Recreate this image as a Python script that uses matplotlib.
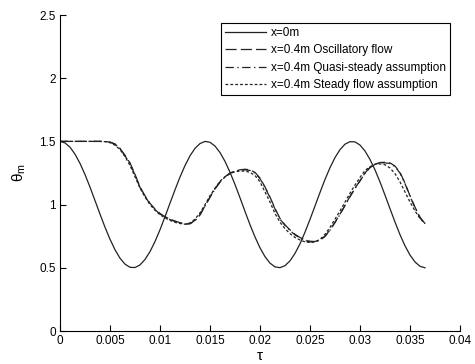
import numpy as np
import matplotlib
matplotlib.use("Agg")
import matplotlib.pyplot as plt

# time grid (tau), step 0.0005
tau = np.round(np.arange(0, 0.03651, 0.0005), 4)

# x = 0 m
theta_x0 = [
    1.500, 1.488, 1.454, 1.399, 1.326, 1.238, 1.138, 1.032, 0.925, 0.821,
    0.726, 0.643, 0.576, 0.529, 0.504, 0.502, 0.523, 0.566, 0.628, 0.708,
    0.801, 0.904, 1.011, 1.117, 1.218, 1.309, 1.386, 1.445, 1.483, 1.500,
    1.493, 1.463, 1.412, 1.342, 1.256, 1.159, 1.054, 0.946, 0.841, 0.744,
    0.658, 0.588, 0.537, 0.507, 0.501, 0.517, 0.555, 0.614, 0.690, 0.782,
    0.883, 0.989, 1.096, 1.199, 1.292, 1.372, 1.435, 1.478, 1.498, 1.496,
    1.471, 1.424, 1.357, 1.275, 1.179, 1.075, 0.968, 0.862, 0.762, 0.674,
    0.601, 0.546, 0.512, 0.500,
]

# x = 0.4 m, oscillatory flow
theta_osc = [
    1.5, 1.5, 1.5, 1.5, 1.5, 1.5, 1.5, 1.5, 1.5,
    1.499, 1.495, 1.48, 1.445, 1.39, 1.33, 1.24, 1.14, 1.07, 1.01,
    0.965, 0.93, 0.905, 0.885, 0.87, 0.857, 0.848, 0.85, 0.875, 0.92,
    0.99, 1.06, 1.125, 1.18, 1.22, 1.25, 1.265, 1.275, 1.28, 1.275,
    1.255, 1.21, 1.14, 1.06, 0.97, 0.89, 0.84, 0.80, 0.765, 0.74,
    0.72, 0.71, 0.708, 0.72, 0.75, 0.80, 0.86, 0.925, 0.995, 1.065,
    1.13, 1.19, 1.25, 1.295, 1.32, 1.333, 1.335, 1.33, 1.305, 1.255,
    1.17, 1.07, 0.98, 0.90, 0.85,
]

# x = 0.4 m, quasi-steady assumption
theta_quasi = [
    1.5, 1.5, 1.5, 1.5, 1.5, 1.5, 1.5, 1.5, 1.5,
    1.499, 1.494, 1.478, 1.442, 1.385, 1.325, 1.235, 1.135, 1.065, 1.005,
    0.96, 0.925, 0.9, 0.882, 0.867, 0.854, 0.845, 0.848, 0.872, 0.918,
    0.988, 1.058, 1.122, 1.178, 1.218, 1.248, 1.263, 1.272, 1.275, 1.27,
    1.25, 1.205, 1.135, 1.055, 0.965, 0.885, 0.835, 0.795, 0.76, 0.735,
    0.715, 0.705, 0.705, 0.718, 0.748, 0.798, 0.858, 0.922, 0.992, 1.062,
    1.127, 1.187, 1.247, 1.292, 1.317, 1.33, 1.33, 1.325, 1.3, 1.25,
    1.165, 1.065, 0.975, 0.895, 0.85,
]

# x = 0.4 m, steady flow assumption
theta_steady = [
    1.5, 1.5, 1.5, 1.5, 1.5, 1.5, 1.5, 1.5, 1.5,
    1.498, 1.49, 1.47, 1.435, 1.38, 1.31, 1.22, 1.13, 1.06, 1.0,
    0.955, 0.92, 0.895, 0.875, 0.86, 0.85, 0.845, 0.855, 0.885, 0.935,
    1.0, 1.07, 1.13, 1.185, 1.22, 1.245, 1.26, 1.265, 1.265, 1.255,
    1.23, 1.18, 1.1, 1.02, 0.93, 0.86, 0.81, 0.77, 0.74, 0.72,
    0.705, 0.70, 0.705, 0.725, 0.765, 0.82, 0.885, 0.95, 1.02, 1.09,
    1.155, 1.215, 1.27, 1.30, 1.318, 1.322, 1.315, 1.29, 1.245, 1.18,
    1.10, 1.02, 0.95, 0.89, 0.85,
]

labels = [
    "x=0m",
    "x=0.4m Oscillatory flow",
    "x=0.4m Quasi-steady assumption",
    "x=0.4m Steady flow assumption",
]

plt.rcParams["font.family"] = ["Liberation Sans", "DejaVu Sans"]
plt.rcParams["mathtext.default"] = "regular"
plt.rcParams["lines.scale_dashes"] = False

fig = plt.figure(figsize=(4.75, 3.64), dpi=100)
ax = fig.add_axes([60 / 475, 33 / 364, 400 / 475, 316 / 364])

lw = 0.9
col = "#222222"
ax.plot(tau, theta_x0, color=col, lw=lw, label=labels[0])
ax.plot(tau, theta_osc, color=col, lw=lw, dashes=(8, 3), label=labels[1])
ax.plot(tau, theta_quasi, color=col, lw=lw, dashes=(6, 2.5, 1, 2.5), label=labels[2])
ax.plot(tau, theta_steady, color=col, lw=lw, dashes=(2, 1.5), label=labels[3])

ax.set_xlim(0, 0.04)
ax.set_ylim(0, 2.5)
ax.set_xticks(np.arange(0, 0.0401, 0.005))
ax.set_xticklabels(["0", "0.005", "0.01", "0.015", "0.02", "0.025", "0.03", "0.035", "0.04"])
ax.set_yticks([0, 0.5, 1, 1.5, 2, 2.5])
ax.set_yticklabels(["0", "0.5", "1", "1.5", "2", "2.5"])
ax.tick_params(direction="in", length=4, width=0.8, labelsize=8.5, pad=3)
for s in ["top", "right"]:
    ax.spines[s].set_visible(False)
for s in ["left", "bottom"]:
    ax.spines[s].set_linewidth(0.8)

ax.set_xlabel(r"$\tau$", fontsize=11, labelpad=1)
ax.set_ylabel(r"$\theta_m$", fontsize=11, labelpad=8)

leg = ax.legend(loc="upper right", bbox_to_anchor=(0.975, 0.975), borderaxespad=0,
                fontsize=8.5, handlelength=3.5, fancybox=False, framealpha=1,
                edgecolor="black", labelspacing=0.45, handletextpad=0.4, borderpad=0.35)
leg.get_frame().set_linewidth(0.8)

fig.savefig("out.png", dpi=100)
